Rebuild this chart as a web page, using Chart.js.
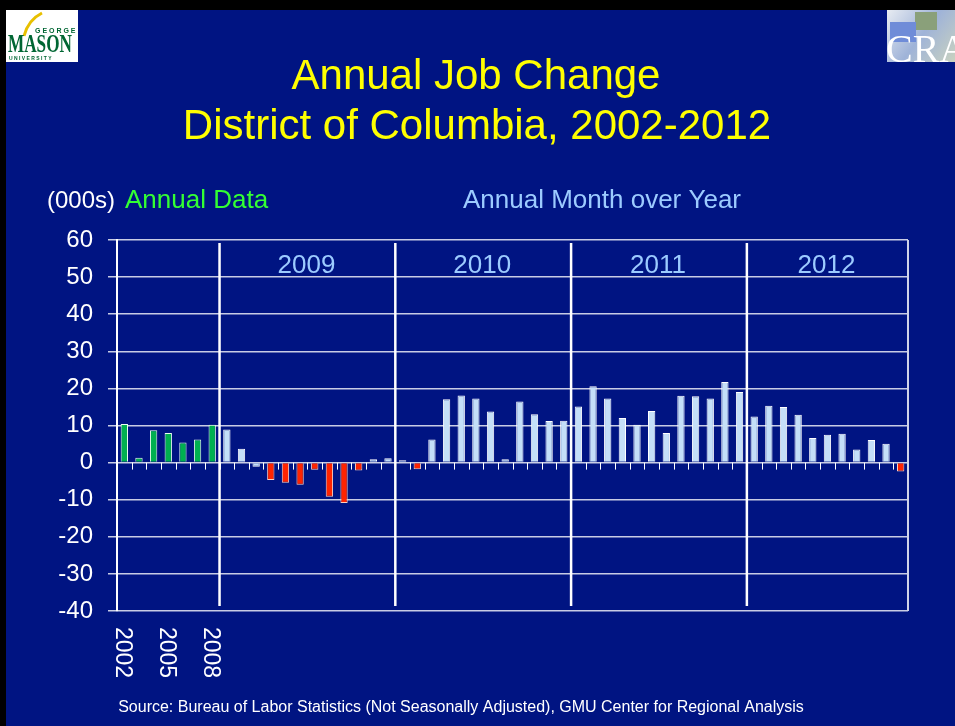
<!doctype html>
<html lang="en">
<head>
<meta charset="utf-8">
<title>Annual Job Change - District of Columbia</title>
<script src="https://cdn.jsdelivr.net/npm/chart.js"></script>
<style>
  html, body { margin: 0; padding: 0; background: #000; }
  #wrap { position: relative; width: 955px; height: 726px; }
  canvas { display: block; }
</style>
</head>
<body>
<div id="wrap"><canvas id="myChart" width="955" height="726"></canvas></div>
<script>
// annual data 2002-2008 (thousands)
const annualYears = ['2002', '2003', '2004', '2005', '2006', '2007', '2008'];
const annualChange = [10.4, 1.3, 8.75, 8.0, 5.4, 6.25, 10.2];

// month over year change, by year
const monthYears = ['2009', '2010', '2011', '2012'];
const months = ['Jan', 'Feb', 'Mar', 'Apr', 'May', 'Jun', 'Jul', 'Aug', 'Sep', 'Oct', 'Nov', 'Dec'];
const mom2009 = [8.9, 3.75, -1.1, -4.7, -5.4, -6.0, -1.9, -9.2, -10.9, -2.1, 0.9, 1.2];
const mom2010 = [0.6, -1.8, 6.25, 17.1, 18.1, 17.3, 13.8, 0.9, 16.5, 13.0, 11.2, 11.25];
const mom2011 = [15.1, 20.6, 17.3, 12.0, 10.2, 13.9, 8.0, 18.0, 17.9, 17.3, 21.7, 19.0];
const mom2012 = [12.4, 15.3, 15.0, 12.9, 6.6, 7.5, 7.8, 3.5, 6.1, 5.1, -2.4];

// labels shown under the axis
const shownLabels = ['2002', '2005', '2008'];
const yMin = -40, yMax = 60, yStep = 10;

const FONT = '"Liberation Sans", Arial, sans-serif';
const NAVY = '#001482';
const GREEN = '#00B050';
const LIGHT = '#C4DFF8';
const RED = '#FF2400';

// build categories + values
const labels = annualYears.slice();
const values = annualChange.slice();
const isAnnual = annualYears.map(() => true);
[mom2009, mom2010, mom2011, mom2012].forEach((arr, i) => {
  arr.forEach((v, m) => {
    labels.push(months[m] + ' ' + monthYears[i]);
    values.push(v);
    isAnnual.push(false);
  });
});
const fillColors = values.map((v, i) => isAnnual[i] ? GREEN : (v < -1.5 ? RED : LIGHT));
const edgeColors = values.map((v, i) => isAnnual[i] ? '#E8FFF0' : (v < -1.5 ? '#FFD0C0' : '#FFFFFF'));

// index where each month-year block starts
const blockStarts = [];
let pos = annualYears.length;
[mom2009, mom2010, mom2011, mom2012].forEach(arr => { blockStarts.push(pos); pos += arr.length; });

const decor = {
  id: 'decor',
  beforeDraw(chart) {
    const ctx = chart.ctx;
    ctx.save();
    ctx.fillStyle = '#000';
    ctx.fillRect(0, 0, chart.width, chart.height);
    ctx.fillStyle = NAVY;
    ctx.fillRect(6, 10, chart.width - 6, chart.height - 10);

    // GMU logo
    ctx.fillStyle = '#fff';
    ctx.fillRect(6, 10, 72, 52);
    ctx.strokeStyle = '#E8C000';
    ctx.lineWidth = 3;
    ctx.beginPath();
    ctx.moveTo(24, 36); ctx.quadraticCurveTo(28, 20, 42, 13);
    ctx.stroke();
    ctx.fillStyle = '#006633';
    ctx.font = 'bold 7px ' + FONT;
    ctx.textAlign = 'left';
    ctx.textBaseline = 'alphabetic';
    ctx.fillText('G E O R G E', 35, 33);
    ctx.font = 'bold 22px "Liberation Serif", serif';
    ctx.save();
    ctx.translate(8, 52);
    ctx.scale(0.78, 1.1);
    ctx.fillText('MASON', 0, 0);
    ctx.restore();
    ctx.font = 'bold 5px ' + FONT;
    ctx.fillText('U N I V E R S I T Y', 9, 60);

    // CRA logo
    const g = ctx.createLinearGradient(887, 10, 955, 62);
    g.addColorStop(0, '#E8ECF2');
    g.addColorStop(0.5, '#9FB3D8');
    g.addColorStop(1, '#C9D2C0');
    ctx.fillStyle = g;
    ctx.fillRect(887, 10, 68, 52);
    ctx.fillStyle = '#8AA07A';
    ctx.fillRect(915, 12, 22, 18);
    ctx.fillStyle = '#6F8CD8';
    ctx.fillRect(890, 22, 26, 20);
    ctx.fillStyle = '#fff';
    ctx.font = '40px "Liberation Serif", serif';
    ctx.fillText('CRA', 886, 62);

    // titles
    ctx.fillStyle = '#FFFF00';
    ctx.textAlign = 'center';
    ctx.font = '42px ' + FONT;
    ctx.fillText('Annual Job Change', 476, 89);
    ctx.fillText('District of Columbia, 2002-2012', 477, 139);

    ctx.textAlign = 'left';
    ctx.font = '24px ' + FONT;
    ctx.fillStyle = '#FFFFFF';
    ctx.fillText('(000s)', 47, 208);
    ctx.font = '26px ' + FONT;
    ctx.fillStyle = '#33FF33';
    ctx.fillText('Annual Data', 125, 208);
    ctx.fillStyle = '#9CCBFF';
    ctx.fillText('Annual Month over Year', 463, 208);

    ctx.fillStyle = '#FFFFFF';
    ctx.textAlign = 'center';
    ctx.font = '16px ' + FONT;
    ctx.fillText('Source: Bureau of Labor Statistics (Not Seasonally Adjusted), GMU Center for Regional Analysis', 461, 712);
    ctx.restore();
  },
  afterDatasetsDraw(chart) {
    const ctx = chart.ctx;
    const x = chart.scales.x, y = chart.scales.y;
    const area = chart.chartArea;
    const slot = (area.right - area.left) / labels.length;
    const zeroY = y.getPixelForValue(0);
    ctx.save();

    // right border
    ctx.strokeStyle = '#D0D4E8';
    ctx.lineWidth = 2;
    ctx.beginPath();
    ctx.moveTo(area.right, area.top);
    ctx.lineTo(area.right, area.bottom);
    ctx.stroke();

    // small tick marks under the zero line
    ctx.strokeStyle = '#FFFFFF';
    ctx.lineWidth = 1;
    for (let i = 1; i < labels.length; i++) {
      const px = Math.round(x.getPixelForValue(i) - slot / 2) + 0.5;
      ctx.beginPath();
      ctx.moveTo(px, zeroY);
      ctx.lineTo(px, zeroY + 7);
      ctx.stroke();
    }

    // year dividers + year labels
    ctx.lineWidth = 2.5;
    ctx.strokeStyle = '#FFFFFF';
    ctx.fillStyle = '#9CCBFF';
    ctx.font = '26px ' + FONT;
    ctx.textAlign = 'center';
    blockStarts.forEach((s, k) => {
      const px = x.getPixelForValue(s) - slot / 2;
      ctx.beginPath();
      ctx.moveTo(px, area.top + 3);
      ctx.lineTo(px, area.bottom - 5);
      ctx.stroke();
      const endIdx = k + 1 < blockStarts.length ? blockStarts[k + 1] : labels.length;
      const endPx = x.getPixelForValue(endIdx - 1) + slot / 2;
      ctx.fillText(monthYears[k], (px + endPx) / 2 - 1, 273);
    });

    // rotated annual labels
    ctx.fillStyle = '#FFFFFF';
    ctx.font = '23px ' + FONT;
    ctx.textAlign = 'left';
    ctx.textBaseline = 'middle';
    shownLabels.forEach(lab => {
      const i = labels.indexOf(lab);
      const px = x.getPixelForValue(i) - 2;
      ctx.save();
      ctx.translate(px, area.bottom + 16);
      ctx.rotate(Math.PI / 2);
      ctx.fillText(lab, 0, 0);
      ctx.restore();
    });
    ctx.restore();
  }
};

new Chart(document.getElementById('myChart'), {
  type: 'bar',
  data: {
    labels: labels,
    datasets: [{
      data: values,
      backgroundColor: fillColors,
      borderColor: edgeColors,
      borderWidth: 1,
      barPercentage: 0.5,
      categoryPercentage: 1.0
    }]
  },
  options: {
    responsive: false,
    animation: false,
    events: [],
    layout: { padding: { top: 240, right: 47, bottom: 115, left: 0 } },
    plugins: { legend: { display: false }, tooltip: { enabled: false } },
    scales: {
      x: {
        display: false,
        offset: true
      },
      y: {
        min: yMin,
        max: yMax,
        afterFit(scale) { scale.width = 117; },
        ticks: {
          stepSize: yStep,
          color: '#FFFFFF',
          padding: 15,
          font: { family: FONT, size: 24 }
        },
        grid: {
          color: '#C8CCE4',
          lineWidth: 1.5,
          tickLength: 9,
          tickColor: '#C8CCE4'
        },
        border: { color: '#FFFFFF', width: 2 }
      }
    }
  },
  plugins: [decor]
});
</script>
</body>
</html>
